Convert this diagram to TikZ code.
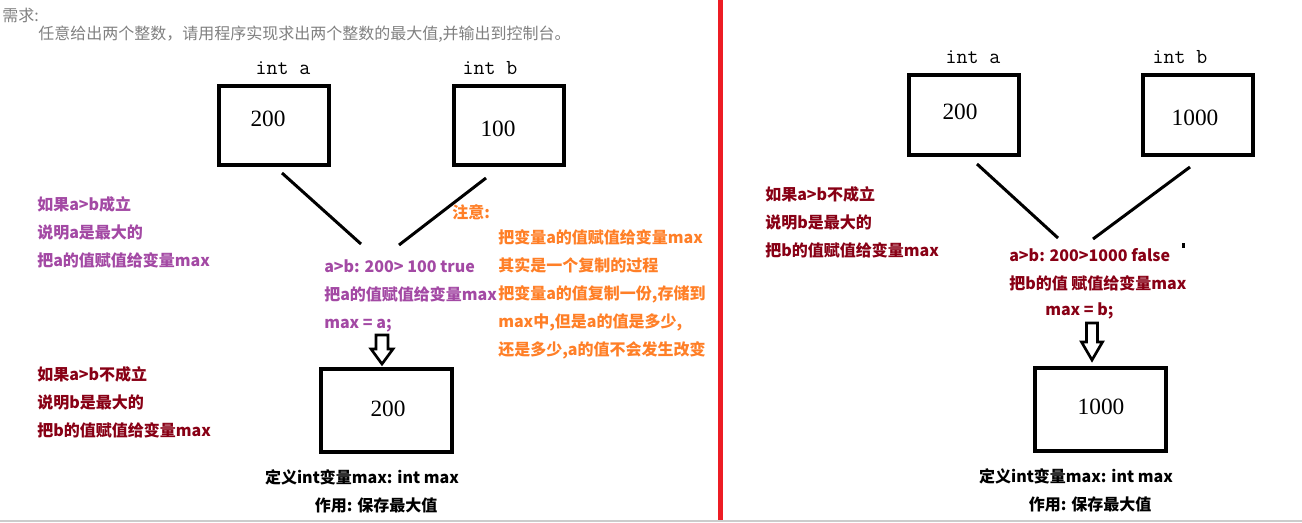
\documentclass[tikz,border=0pt]{standalone}
\usepackage{fontspec}
\newfontfamily\cjk{Noto Sans CJK SC}
\newfontfamily\numfont{Liberation Serif}
\definecolor{notepurple}{HTML}{A349A4}
\definecolor{notered}{HTML}{880015}
\definecolor{noteorange}{HTML}{FF7F27}
\definecolor{splitred}{HTML}{ED1C24}
\definecolor{headgrey}{HTML}{808080}
\tikzset{
  valbox/.style={draw,line width=3pt,minimum width=82.5pt,minimum height=59.25pt,inner sep=0pt},
  maxbox/.style={valbox,minimum width=98.25pt,minimum height=62.25pt},
  vartype/.style={inner sep=0pt,font=\ttfamily\fontsize{16}{16}\selectfont},
  valnum/.style={inner sep=0pt,font=\numfont\fontsize{17.5}{17.5}\selectfont},
  memo/.style={anchor=west,align=left,inner sep=0pt,font=\cjk\bfseries\fontsize{12}{21}\selectfont},
  headline/.style={anchor=west,inner sep=0pt,text=headgrey,font=\cjk\fontsize{12}{14}\selectfont},
  wire/.style={line width=2.25pt},
  hollowarrow/.style={line width=2pt,line join=miter}
}
\begin{document}
\begin{tikzpicture}[x=0.75pt,y=-0.75pt]
\useasboundingbox (0,0) rectangle (1302,522);
% task text
\node[headline] (task) at (2,15) {需求:};
\node[headline] (tasktext) at (38,34) {任意给出两个整数，请用程序实现求出两个整数的最大值,并输出到控制台。};
% left half: a > b holds
\node[vartype] (intaL) at (283,68) {int a};
\node[vartype] (intbL) at (490,68) {int b};
\node[valbox] (boxaL) at (274,125.5) {};
\node[valbox] (boxbL) at (508.5,125.5) {};
\node[valnum] (valaL) at (268,119) {200};
\node[valnum] (valbL) at (498,129) {100};
\coordinate (fromaL) at (282,173);
\coordinate (frombL) at (486,178);
\coordinate (toaL) at (361,244);
\coordinate (tobL) at (399,245);
\draw[wire] (fromaL) -- (toaL);
\draw[wire] (frombL) -- (tobL);
\node[memo,text=notepurple] (trueL) at (37,232) {如果a>b成立\\说明a是最大的\\把a的值赋值给变量max};
\node[memo,text=notepurple] (condL) at (324,296) {a>b: 200> 100 true\\把a的值赋值给变量max\\max = a;};
\node[memo,text=noteorange] (noteL) at (452,212) {注意:};
\node[memo,text=noteorange] (copyL) at (498,294.5) {把变量a的值赋值给变量max\\其实是一个复制的过程\\把变量a的值复制一份,存储到\\max中,但是a的值是多少,\\还是多少,a的值不会发生改变};
\node[memo,text=notered] (falseL) at (37,402) {如果a>b不成立\\说明b是最大的\\把b的值赋值给变量max};
\coordinate (arrL) at (382,335);
\draw[hollowarrow] (arrL) ++(-6,0) -- ++(12,0) -- ++(0,14) -- ++(5,0) -- ++(-11,15) -- ++(-11,-15) -- ++(5,0) -- cycle;
\node[maxbox] (boxmaxL) at (386.5,410.5) {};
\node[valnum] (valmaxL) at (388,409) {200};
\node[memo,anchor=center,text=black] (defL) at (362,477) {定义int变量max: int max};
\node[memo,anchor=center,text=black] (useL) at (376,505) {作用: 保存最大值};
% dividing line
\draw[splitred,line width=3.75pt] (720.5,0) -- (720.5,522);
% right half: a > b fails
\node[vartype] (intaR) at (973,57) {int a};
\node[vartype] (intbR) at (1180,57) {int b};
\node[valbox,minimum height=60pt] (boxaR) at (964,115) {};
\node[valbox,minimum height=60pt] (boxbR) at (1198,115) {};
\node[valnum] (valaR) at (960,112) {200};
\node[valnum] (valbR) at (1195,118) {1000};
\coordinate (fromaR) at (977,164);
\coordinate (frombR) at (1190,167);
\coordinate (toaR) at (1058,238);
\coordinate (tobR) at (1093,239);
\draw[wire] (fromaR) -- (toaR);
\draw[wire] (frombR) -- (tobR);
\node[memo,text=notered] (falseR) at (765,222.5) {如果a>b不成立\\说明b是最大的\\把b的值赋值给变量max};
\node[memo,text=notered] (condR) at (1009,255) {a>b: 200>1000 false};
\node[memo,text=notered] (giveR) at (1009,283) {把b的值 赋值给变量max};
\node[memo,text=notered] (setR) at (1045,311) {max = b;};
\fill (1182,243) rectangle (1185,248);
\coordinate (arrR) at (1092,323);
\draw[hollowarrow] (arrR) ++(-5.5,0) -- ++(11,0) -- ++(0,19) -- ++(5,0) -- ++(-10.5,18) -- ++(-10.5,-18) -- ++(5,0) -- cycle;
\node[maxbox] (boxmaxR) at (1100.5,409.5) {};
\node[valnum] (valmaxR) at (1101,407) {1000};
\node[memo,anchor=center,text=black] (defR) at (1076,476) {定义int变量max: int max};
\node[memo,anchor=center,text=black] (useR) at (1090,504) {作用: 保存最大值};
% bottom edge
\draw[black!20,line width=1.5pt] (0,520.5) -- (1302,520.5);
\end{tikzpicture}
\end{document}
